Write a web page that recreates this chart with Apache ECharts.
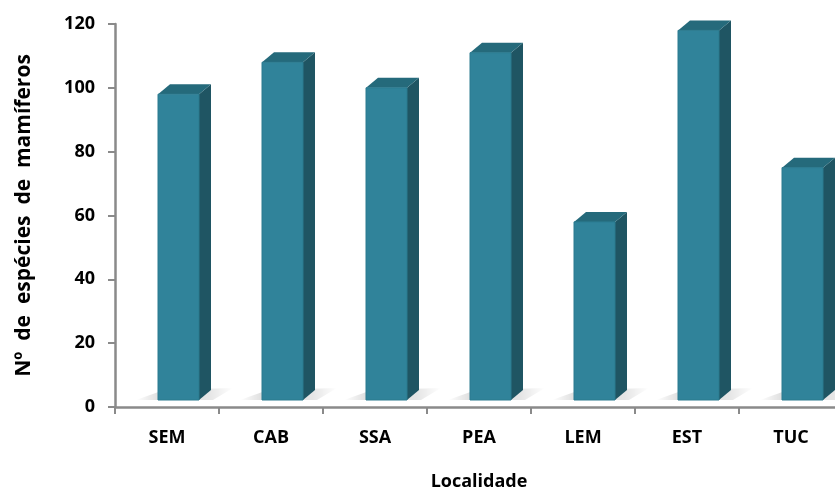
<!DOCTYPE html>
<html>
<head>
<meta charset="utf-8">
<script src="https://cdn.jsdelivr.net/npm/echarts@6/dist/echarts.min.js"></script>
<style>
  html, body { margin: 0; padding: 0; background: #fff; }
  #chart { width: 835px; height: 490px; }
</style>
</head>
<body>
<div id="chart"></div>
<script>
// dados
const categories = ["SEM", "CAB", "SSA", "PEA", "LEM", "EST", "TUC"];
const especies = [98, 108, 100, 111, 58, 118, 75];
const yTicks = [0, 20, 40, 60, 80, 100, 120];

const FRONT = "#30839a";
const SIDE = "#1f5563";
const TOP = "#256a7b";
const labelFont = '"Open Sans", "Liberation Sans", sans-serif';

const chart = echarts.init(document.getElementById("chart"));

// barra 3D: face frontal + lateral + topo + sombra no chão
function renderBar3d(params, api) {
  const top = api.coord([api.value(0), api.value(1)]);
  const base = api.coord([api.value(0), 0]);
  const x0 = top[0] - 9, x1 = top[0] + 32;
  const yb = base[1] - 7, yt = top[1];
  const dx = 12, dy = -10;
  return {
    type: "group",
    children: [
      {
        type: "polygon",
        shape: { points: [[x0 - 22, yb], [x0 + 6, yb - 10], [x1 + dx + 22, yb + dy - 2], [x1 + 14, yb], [x0, yb]] },
        style: {
          fill: new echarts.graphic.LinearGradient(0, 0, 1, 0, [
            { offset: 0, color: "rgba(0,0,0,0)" },
            { offset: 0.25, color: "rgba(0,0,0,0.14)" },
            { offset: 0.75, color: "rgba(0,0,0,0.10)" },
            { offset: 1, color: "rgba(0,0,0,0)" }
          ])
        },
        silent: true
      },
      {
        type: "polygon",
        shape: { points: [[x1, yt], [x1 + dx, yt + dy], [x1 + dx, yb + dy], [x1, yb]] },
        style: { fill: SIDE }
      },
      {
        type: "polygon",
        shape: { points: [[x0, yt], [x0 + dx, yt + dy], [x1 + dx, yt + dy], [x1, yt]] },
        style: { fill: TOP }
      },
      {
        type: "rect",
        shape: { x: x0, y: yt, width: x1 - x0, height: yb - yt },
        style: { fill: FRONT, stroke: "#2a7a8f", lineWidth: 1 }
      }
    ]
  };
}

chart.setOption({
  animation: false,
  grid: { left: 115, right: -8, top: 24, bottom: 83, outerBoundsMode: "none" },
  xAxis: {
    type: "category",
    data: categories,
    name: "Localidade",
    nameLocation: "middle",
    nameGap: 66,
    nameTextStyle: { fontFamily: labelFont, fontWeight: "bold", fontSize: 18, color: "#000" },
    axisLine: { lineStyle: { color: "#8a8a8a", width: 2.5 } },
    axisTick: { show: true, length: 7, lineStyle: { color: "#8a8a8a", width: 2 } },
    axisLabel: { fontFamily: labelFont, fontWeight: "bold", fontSize: 18, color: "#000", margin: 22 }
  },
  yAxis: {
    type: "value",
    min: 0,
    max: 120,
    interval: 20,
    name: "Nº  de  espécies  de  mamíferos",
    nameLocation: "middle",
    nameGap: 80,
    nameTextStyle: { fontFamily: labelFont, fontWeight: "bold", fontSize: 21, color: "#000" },
    axisLine: { show: true, lineStyle: { color: "#8a8a8a", width: 2.5 } },
    axisTick: { show: true, length: 7, lineStyle: { color: "#8a8a8a", width: 2 } },
    splitLine: { show: false },
    axisLabel: {
      fontFamily: labelFont, fontWeight: "bold", fontSize: 18, color: "#000", margin: 20,
      formatter: v => (yTicks.includes(v) ? String(v) : "")
    }
  },
  series: [
    {
      type: "custom",
      renderItem: renderBar3d,
      data: especies.map((v, i) => [i, v]),
      encode: { x: 0, y: 1 }
    }
  ]
});
</script>
</body>
</html>
